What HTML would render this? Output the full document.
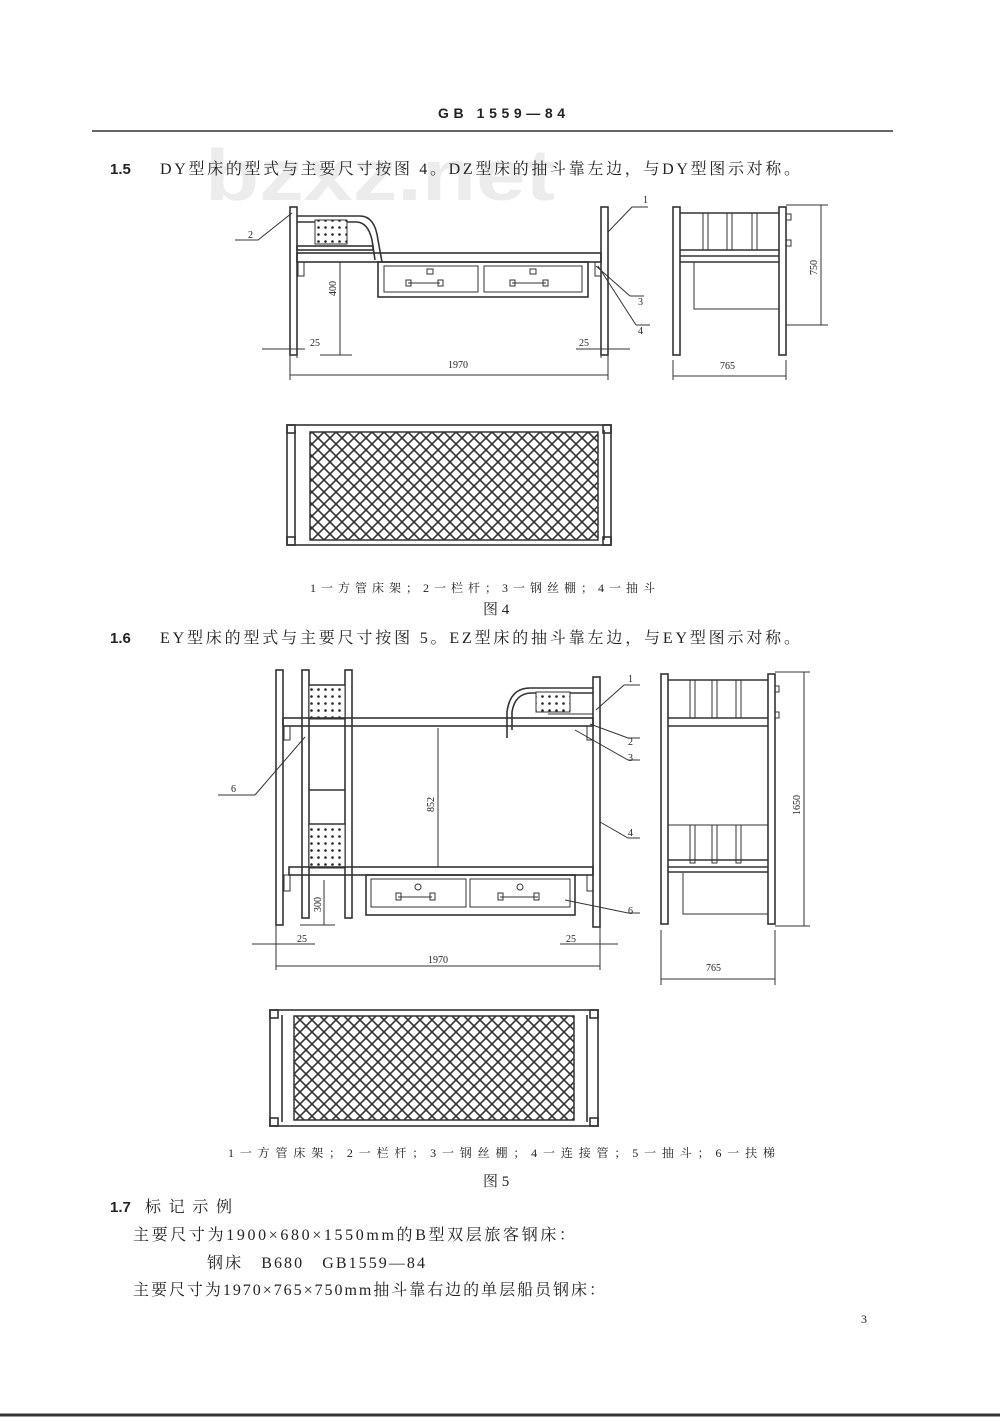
<!DOCTYPE html>
<html><head><meta charset="utf-8"><style>
html,body{margin:0;padding:0;background:#fff}
svg{display:block}
text{font-family:"Liberation Serif","Noto Serif CJK SC","Noto Sans CJK SC",serif;fill:#222}
.s{stroke:#333;stroke-width:1.6;fill:none}
.t{stroke:#333;stroke-width:1;fill:none}
.d{font-size:10px}
.b{font-family:"Liberation Sans",sans-serif;font-weight:bold}
</style></head><body>
<svg width="1000" height="1420" viewBox="0 0 1000 1420" xmlns="http://www.w3.org/2000/svg">
<defs>
<pattern id="mesh" width="12" height="12" patternUnits="userSpaceOnUse">
<rect width="12" height="12" fill="#fff"/>
<path d="M0 0L12 12M12 0L0 12" stroke="#333" stroke-width="1.6"/>
</pattern>
<pattern id="dots" width="7" height="7" patternUnits="userSpaceOnUse">
<rect width="7" height="7" fill="#fff"/>
<circle cx="3.5" cy="3.5" r="1.3" fill="#222"/>
</pattern>
</defs>
<rect width="1000" height="1420" fill="#fff"/>
<text x="438" y="118" font-size="14" class="b" textLength="127" lengthAdjust="spacing">GB 1559—84</text>
<line x1="92" y1="131" x2="893" y2="131" stroke="#333" stroke-width="1.5"/>
<text x="205" y="200" font-size="72" class="b" style="fill:#ececec" textLength="350" lengthAdjust="spacingAndGlyphs">bzxz.net</text>
<text x="110" y="174" font-size="15" class="b">1.5</text>
<text x="160" y="174" font-size="16" textLength="640" lengthAdjust="spacing">DY型床的型式与主要尺寸按图 4。DZ型床的抽斗靠左边，与DY型图示对称。</text>

<!-- FIG 4 side -->
<g>
<rect class="s" x="290" y="207" width="7" height="148"/>
<rect class="s" x="601" y="207" width="7" height="148"/>
<path class="s" d="M297 216H360Q375 216 378 240L382 262"/>
<path class="s" d="M297 222H356Q368 222 372 240L375 260"/>
<rect class="t" x="315" y="220" width="32" height="24" style="fill:url(#dots)"/>
<rect class="s" x="297" y="246" width="76" height="4"/>
<rect class="s" x="297" y="253" width="304" height="9"/>
<rect class="s" x="378" y="262" width="210" height="35"/>
<rect class="t" x="384" y="266" width="94" height="26"/>
<rect class="t" x="484" y="266" width="98" height="26"/>
<rect class="t" x="427" y="269" width="6" height="5"/><rect class="t" x="530" y="269" width="6" height="5"/>
<path class="t" d="M408 283H440M512 283H546"/>
<rect class="t" x="406" y="280" width="5" height="6"/><rect class="t" x="438" y="280" width="5" height="6"/>
<rect class="t" x="510" y="280" width="5" height="6"/><rect class="t" x="543" y="280" width="5" height="6"/>
<rect class="t" x="298" y="262" width="6" height="14"/><rect class="t" x="595" y="262" width="6" height="14"/>
<path class="t" d="M340 262V355M320 355H352"/>
<text class="d" transform="translate(336,296) rotate(-90)">400</text>
<path class="t" d="M290 355V380M608 355V380M262 349H305M576 349H630M290 375H608M297 340V358M601 340V358"/>
<text class="d" x="310" y="346">25</text><text class="d" x="579" y="346">25</text>
<text class="d" x="448" y="368">1970</text>
<path class="t" d="M235 240H258L292 213M648 207H632L608 232M636 325H650M636 325L598 266M630 296H644M630 296L596 266"/>
<text class="d" x="248" y="238">2</text><text class="d" x="643" y="203">1</text>
<text class="d" x="638" y="305">3</text><text class="d" x="638" y="334">4</text>
</g>
<!-- FIG 4 end -->
<g>
<rect class="s" x="673" y="207" width="7" height="148"/>
<rect class="s" x="779" y="207" width="7" height="148"/>
<path class="s" d="M680 213H779M680 250H779M680 256H779M680 262H779"/>
<rect class="t" x="703" y="213" width="5" height="37"/><rect class="t" x="727" y="213" width="5" height="37"/><rect class="t" x="752" y="213" width="5" height="37"/>
<rect class="t" x="786" y="214" width="5" height="6"/><rect class="t" x="786" y="240" width="5" height="6"/>
<path class="t" d="M694 262V309H779"/>
<path class="t" d="M786 205H828M786 325H828M821 205V325M673 360V380M786 360V380M673 376H786"/>
<text class="d" transform="translate(817,275) rotate(-90)">750</text>
<text class="d" x="720" y="369">765</text>
</g>
<!-- FIG 4 plan -->
<rect class="s" x="287" y="425" width="324" height="120"/>
<rect x="310" y="432" width="288" height="108" fill="url(#mesh)" stroke="#333" stroke-width="1.5"/>
<path class="s" d="M295 430V540M604 430V540"/>
<rect class="s" x="287" y="425" width="8" height="8"/><rect class="s" x="603" y="425" width="8" height="8"/>
<rect class="s" x="287" y="537" width="8" height="8"/><rect class="s" x="603" y="537" width="8" height="8"/>
<text x="310" y="592" font-size="12" textLength="345" lengthAdjust="spacing">1一方管床架；2一栏杆；3一钢丝棚；4一抽斗</text>
<text x="483" y="614" font-size="15">图 4</text>

<text x="110" y="643" font-size="15" class="b">1.6</text>
<text x="160" y="643" font-size="16" textLength="640" lengthAdjust="spacing">EY型床的型式与主要尺寸按图 5。EZ型床的抽斗靠左边，与EY型图示对称。</text>

<!-- FIG 5 side -->
<g>
<rect class="s" x="276" y="670" width="7" height="255"/>
<rect class="s" x="302" y="670" width="7" height="248"/>
<rect class="s" x="345" y="670" width="7" height="248"/>
<rect class="s" x="593" y="677" width="7" height="250"/>
<rect class="t" x="309" y="685" width="36" height="34" style="fill:url(#dots)"/>
<rect class="t" x="309" y="824" width="36" height="44" style="fill:url(#dots)"/>
<path class="s" d="M309 685H345M309 790H345M309 824H345"/>
<rect class="s" x="283" y="718" width="310" height="8"/>
<rect class="s" x="289" y="867" width="304" height="8"/>
<path class="s" d="M507 738V712Q510 688 530 688H593M512 730V712Q515 693 532 693H593"/>
<rect class="t" x="536" y="692" width="34" height="20" style="fill:url(#dots)"/>
<path class="t" d="M548 714H593"/>
<rect class="s" x="366" y="875" width="209" height="40"/>
<rect class="t" x="371" y="879" width="95" height="28"/><rect class="t" x="470" y="879" width="100" height="28"/>
<path class="t" d="M398 897H432M500 897H538"/>
<rect class="t" x="396" y="893" width="5" height="7"/><rect class="t" x="430" y="893" width="5" height="7"/>
<rect class="t" x="498" y="893" width="5" height="7"/><rect class="t" x="534" y="893" width="5" height="7"/>
<circle class="t" cx="418" cy="887" r="3"/><circle class="t" cx="520" cy="887" r="3"/>
<rect class="t" x="284" y="726" width="6" height="14"/><rect class="t" x="587" y="726" width="6" height="14"/>
<rect class="t" x="284" y="875" width="6" height="16"/><rect class="t" x="587" y="875" width="6" height="16"/>
<path class="t" d="M438 728V867M324 880V925M300 925H335"/>
<text class="d" transform="translate(434,812) rotate(-90)">852</text>
<text class="d" transform="translate(321,912) rotate(-90)">300</text>
<path class="t" d="M276 925V970M600 925V970M252 944H315M560 944H618M276 966H600"/>
<text class="d" x="297" y="942">25</text><text class="d" x="566" y="942">25</text>
<text class="d" x="428" y="963">1970</text>
<path class="t" d="M218 795H255L305 737M640 685H624L596 710M640 738H628L590 724M640 760H628L575 730M640 838H628L600 822M640 913H628L565 900"/>
<text class="d" x="231" y="792">6</text><text class="d" x="628" y="682">1</text><text class="d" x="628" y="745">2</text>
<text class="d" x="628" y="761">3</text><text class="d" x="628" y="836">4</text><text class="d" x="628" y="914">6</text>
</g>
<!-- FIG 5 end -->
<g>
<rect class="s" x="661" y="674" width="7" height="250"/>
<rect class="s" x="768" y="674" width="7" height="250"/>
<path class="s" d="M668 680H768M668 718H768M668 726H768M668 860H768M668 867H768M668 872H768"/>
<rect class="t" x="690" y="680" width="5" height="38"/><rect class="t" x="712" y="680" width="5" height="38"/><rect class="t" x="736" y="680" width="5" height="38"/>
<rect class="t" x="690" y="825" width="5" height="38"/><rect class="t" x="712" y="825" width="5" height="38"/><rect class="t" x="736" y="825" width="5" height="38"/>
<path class="t" d="M668 825H768"/>
<rect class="t" x="775" y="686" width="4" height="6"/><rect class="t" x="775" y="712" width="4" height="6"/>
<path class="t" d="M683 873V914H768M775 672H810M775 926H810M804 672V926M661 930V985M775 930V985M661 979H775"/>
<text class="d" transform="translate(800,815) rotate(-90)">1650</text>
<text class="d" x="706" y="971">765</text>
</g>
<!-- FIG 5 plan -->
<rect class="s" x="270" y="1010" width="328" height="116"/>
<rect x="294" y="1016" width="280" height="104" fill="url(#mesh)" stroke="#333" stroke-width="1.5"/>
<path class="s" d="M282 1015V1122M587 1015V1122"/>
<rect class="s" x="270" y="1010" width="8" height="8"/><rect class="s" x="590" y="1010" width="8" height="8"/>
<rect class="s" x="270" y="1118" width="8" height="8"/><rect class="s" x="590" y="1118" width="8" height="8"/>
<text x="228" y="1157" font-size="12" textLength="547" lengthAdjust="spacing">1一方管床架；2一栏杆；3一钢丝棚；4一连接管；5一抽斗；6一扶梯</text>
<text x="483" y="1186" font-size="15">图 5</text>
<text x="110" y="1212" font-size="15" class="b">1.7</text>
<text x="145" y="1212" font-size="16" textLength="87" lengthAdjust="spacing">标记示例</text>
<text x="133" y="1240" font-size="16" textLength="442" lengthAdjust="spacing">主要尺寸为1900×680×1550mm的B型双层旅客钢床：</text>
<text x="207" y="1268" font-size="16" textLength="218" lengthAdjust="spacing">钢床　B680　GB1559—84</text>
<text x="133" y="1295" font-size="16" textLength="472" lengthAdjust="spacing">主要尺寸为1970×765×750mm抽斗靠右边的单层船员钢床：</text>
<text x="861" y="1323" font-size="12">3</text>
<line x1="0" y1="1415" x2="1000" y2="1415" stroke="#333" stroke-width="3"/>
</svg>
</body></html>
